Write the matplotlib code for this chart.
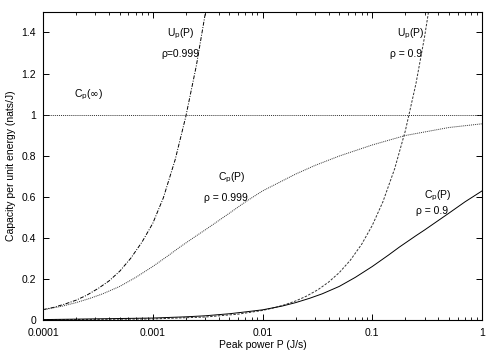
import matplotlib
matplotlib.use('Agg')
import matplotlib.pyplot as plt
from matplotlib.ticker import FixedLocator, FixedFormatter, LogLocator, NullFormatter

plt.rcParams['font.family'] = ['Liberation Sans', 'DejaVu Sans']

# valori
p_up999 = [1e-4, 1.25e-4, 1.6e-4, 2e-4, 2.5e-4, 3.2e-4, 4e-4, 5e-4, 6.3e-4, 8e-4, 1e-3,
           1.25e-3, 1.6e-3, 2e-3, 2.5e-3, 3.05e-3]
up999 = [0.05, 0.061, 0.078, 0.096, 0.12, 0.154, 0.19, 0.237, 0.30, 0.38, 0.47,
         0.595, 0.78, 0.99, 1.24, 1.51]

p_up9 = [1e-4, 1e-3, 3e-3, 6e-3, 1e-2, 1.25e-2, 1.6e-2, 2e-2, 2.5e-2, 3.2e-2, 4e-2, 5e-2,
         6.3e-2, 8e-2, 0.1, 0.125, 0.16, 0.2, 0.25, 0.3, 0.33]
up9 = [0.0005, 0.0046, 0.014, 0.028, 0.046, 0.058, 0.074, 0.092, 0.115, 0.147, 0.184, 0.23,
       0.29, 0.368, 0.46, 0.575, 0.736, 0.92, 1.15, 1.38, 1.52]

p_cp999 = [1e-4, 1.5e-4, 2e-4, 2.68e-4, 3.5e-4, 5e-4, 7e-4, 1e-3, 1.4e-3, 1.77e-3, 2.5e-3, 3e-3,
           5e-3, 7e-3, 1e-2, 2e-2, 3e-2, 5e-2, 0.1, 0.2, 0.5, 1]
cp999 = [0.049, 0.067, 0.084, 0.105, 0.127, 0.163, 0.207, 0.26, 0.315, 0.355, 0.41, 0.438,
         0.52, 0.575, 0.628, 0.71, 0.752, 0.798, 0.852, 0.898, 0.937, 0.955]

p_cp9 = [1e-4, 1e-3, 2e-3, 3e-3, 5e-3, 7e-3, 1e-2, 1.5e-2, 2e-2, 2.68e-2, 3.5e-2, 5e-2, 7e-2,
         0.1, 0.14, 0.177, 0.25, 0.3, 0.5, 0.7, 1]
cp9 = [0.0015, 0.009, 0.015, 0.02, 0.03, 0.039, 0.049, 0.067, 0.084, 0.105, 0.127, 0.163, 0.207,
       0.26, 0.315, 0.355, 0.41, 0.438, 0.52, 0.575, 0.628]

cp_inf = 1.0

xticks = [0.0001, 0.001, 0.01, 0.1, 1]
xlabels = ['0.0001', '0.001', '0.01', '0.1', '1']
yticks = [0, 0.2, 0.4, 0.6, 0.8, 1, 1.2, 1.4]
ylabels = ['0', '0.2', '0.4', '0.6', '0.8', '1', '1.2', '1.4']

fig = plt.figure(figsize=(5, 3.5), dpi=100)
ax = fig.add_axes([0.086, 0.086, 0.878, 0.88])

lw = 0.7
ax.plot(p_up999, up999, color='black', lw=lw, dashes=(4, 1.5, 1, 1.5))
ax.plot(p_up9, up9, color='#333333', lw=lw, dashes=(2.5, 1.5))
ax.plot(p_cp999, cp999, color='#333333', lw=lw, dashes=(1, 1))
ax.plot(p_cp9, cp9, color='black', lw=lw)
ax.axhline(cp_inf, color='#333333', lw=lw, dashes=(1, 1))

ax.set_xscale('log')
ax.set_xlim(1e-4, 1)
ax.set_ylim(0, 1.5)
ax.xaxis.set_major_locator(FixedLocator(xticks))
ax.xaxis.set_major_formatter(FixedFormatter(xlabels))
ax.xaxis.set_minor_locator(LogLocator(base=10, subs=range(2, 10)))
ax.xaxis.set_minor_formatter(NullFormatter())
ax.yaxis.set_major_locator(FixedLocator(yticks))
ax.yaxis.set_major_formatter(FixedFormatter(ylabels))

ax.tick_params(which='both', direction='in', top=True, right=True, labelsize=7.5)
ax.tick_params(axis='x', pad=6)
ax.tick_params(axis='y', pad=5)
ax.tick_params(which='major', length=4.5, width=0.7)
ax.tick_params(which='minor', length=2.5, width=0.6)
for s in ax.spines.values():
    s.set_linewidth(0.8)

ax.set_xlabel('Peak power P (J/s)', fontsize=7.5, labelpad=1)
ax.set_ylabel('Capacity per unit energy (nats/J)', fontsize=7.5, labelpad=4)

fs = 7.5
ax.text(0.00181, 1.393, r'U$_\mathrm{p}$(P)', fontsize=fs, ha='center', va='center')
ax.text(0.00177, 1.296, 'ρ=0.999', fontsize=fs, ha='center', va='center')
ax.text(0.000262, 1.097, r'C$_\mathrm{p}$($\infty$)', fontsize=fs, ha='center', va='center')
ax.text(0.2255, 1.393, r'U$_\mathrm{p}$(P)', fontsize=fs, ha='center', va='center')
ax.text(0.203, 1.296, 'ρ = 0.9', fontsize=fs, ha='center', va='center')
ax.text(0.00527, 0.694, r'C$_\mathrm{p}$(P)', fontsize=fs, ha='center', va='center')
ax.text(0.00465, 0.592, 'ρ = 0.999', fontsize=fs, ha='center', va='center')
ax.text(0.397, 0.602, r'C$_\mathrm{p}$(P)', fontsize=fs, ha='center', va='center')
ax.text(0.35, 0.529, 'ρ = 0.9', fontsize=fs, ha='center', va='center')

fig.savefig('out.png', dpi=100)
